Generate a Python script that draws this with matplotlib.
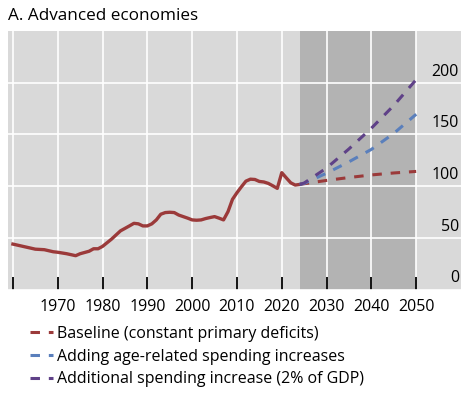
import numpy as np
import matplotlib.pyplot as plt

plt.rcParams['font.family'] = ['Open Sans', 'DejaVu Sans']

# historical debt, % of GDP
hist_years = [1960, 1965, 1967, 1969, 1970, 1972, 1974, 1975, 1977, 1978, 1979,
              1980, 1982, 1984, 1986, 1987, 1988, 1989, 1990, 1991, 1992, 1993,
              1994, 1995, 1996, 1997, 1998, 1999, 2000, 2001, 2002, 2003, 2004,
              2005, 2006, 2007, 2008, 2009, 2010, 2011, 2012, 2013, 2014, 2015,
              2016, 2017, 2018, 2019, 2020, 2021, 2022, 2023, 2024]
hist_debt = [43.9, 39.0, 38.5, 36.5, 36.0, 34.6, 32.7, 34.6, 37.0, 39.4, 39.4,
             41.7, 48.7, 56.7, 61.5, 64.0, 63.5, 61.5, 61.5, 63.5, 67.3, 72.8,
             74.4, 74.7, 74.4, 72.0, 70.5, 69.0, 67.3, 67.0, 67.3, 68.6, 69.6,
             70.5, 69.0, 67.3, 75.3, 87.2, 93.6, 99.4, 104.8, 106.7, 106.4, 104.5,
             104.0, 102.6, 100.3, 97.8, 113.0, 108.0, 103.2, 101.0, 101.6]

proj_years = [2024, 2025, 2030, 2035, 2040, 2045, 2050]
baseline = [101.6, 102.3, 105.5, 108.3, 110.8, 112.7, 114.2]
age_related = [101.6, 102.6, 112.5, 123.5, 135.5, 151.0, 169.5]
additional = [101.6, 103.0, 117.5, 136.0, 156.0, 178.0, 203.0]

ticks_x = list(range(1960, 2051, 10))
labels_x = ['' if t == 1960 else str(t) for t in ticks_x]
ticks_y = [0, 50, 100, 150, 200]

red = '#9b3a3a'
blue = '#5a7fbc'
purple = '#5f4188'

fig = plt.figure(figsize=(4.67, 3.93), dpi=100)
ax = fig.add_axes([8 / 467, 1 - 289.5 / 393, 453 / 467, 258.5 / 393])
ax.set_facecolor('#d9d9d9')
ax.set_axisbelow('line')

ax.axvspan(2024, 2050, color='#b3b3b3', lw=0)

dash = (3.1, 2.9)
ax.plot(hist_years, hist_debt, color=red, lw=2.4, solid_joinstyle='round')
ax.plot(proj_years, baseline, color=red, lw=2.2, dashes=dash,
        label='Baseline (constant primary deficits)')
ax.plot(proj_years, age_related, color=blue, lw=2.2, dashes=dash,
        label='Adding age-related spending increases')
ax.plot(proj_years, additional, color=purple, lw=2.2, dashes=dash,
        label='Additional spending increase (2% of GDP)')

ax.set_xlim(1958.9, 2060)
ax.set_ylim(0, 250)
ax.set_xticks(ticks_x)
ax.set_xticklabels(labels_x, fontsize=11.5)
ax.set_yticks(ticks_y)
ax.set_yticklabels([])
ax.tick_params(axis='x', direction='in', length=9.5, width=1.3, color='black', pad=7)
ax.tick_params(axis='y', length=0)
ax.grid(True, color='white', lw=1.2)
for s in ax.spines.values():
    s.set_visible(False)

for v in ticks_y:
    ax.text(0.9955, v + 3, str(v), transform=ax.get_yaxis_transform(),
            ha='right', va='bottom', fontsize=11.5)

fig.text(8 / 467, 1 - 16 / 393, 'A. Advanced economies', fontsize=12.3, va='center', ha='left')

fig.legend(loc='upper left', bbox_to_anchor=(30 / 467, 1 - 326 / 393), frameon=False,
           fontsize=11.5, handlelength=1.45, handletextpad=0.25, labelspacing=0.42,
           borderaxespad=0, borderpad=0)

fig.savefig('out.png', dpi=100)
